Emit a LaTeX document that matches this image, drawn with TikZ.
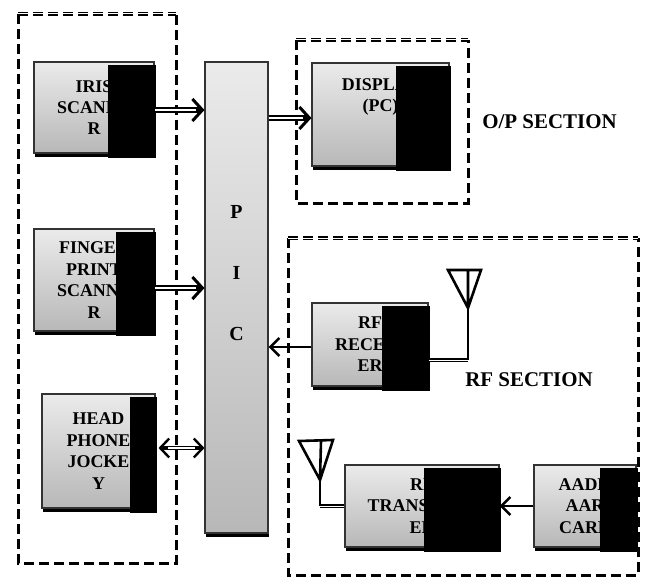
\documentclass[tikz,border=0pt]{standalone}
\usepackage{fontspec}
\setmainfont{Liberation Serif}
\usetikzlibrary{arrows.meta,positioning,calc,shadows}

\newcommand{\blkfont}{\fontsize{18}{21.5}\selectfont\bfseries}
\newcommand{\secfont}{\fontsize{21}{24}\selectfont\bfseries}
% black strip on the right of every block
\newcommand{\cover}[2]{\fill ([xshift=-#2bp,yshift=-4bp]#1.north east) rectangle ([xshift=1bp,yshift=-4bp]#1.south east);}

\begin{document}
\begin{tikzpicture}[x=1bp,y=-1bp,
  blk/.style={draw=black!80, line width=1.1bp, top color=black!8, bottom color=black!28,
    inner sep=0pt, align=center, font=\blkfont,
    drop shadow={shadow xshift=1bp, shadow yshift=-4bp, fill=black, opacity=1}},
  secline/.style={line width=3bp, dash pattern=on 10bp off 5bp},
  sectop/.style={secline, double=white, double distance=1bp, line width=1.8bp},
  seclabel/.style={font=\secfont, inner sep=0pt},
  dblline/.style={double, double distance=2.4bp, line width=2bp},
  dbltip/.style={line width=3bp, -{Straight Barb[length=10bp,width=22bp]}},
  bitip/.style={line width=2.4bp, -{Straight Barb[length=9bp,width=19bp]}},
  sarr/.style={line width=2.6bp, -{Straight Barb[length=9bp,width=18bp]}},
  feed/.style={double, double distance=1bp, line width=1.3bp},
  ant/.style={line width=2.6bp, line join=miter}
]
\useasboundingbox (0,0) rectangle (646,581);

% sections
\draw[secline] (18,14) -- (18,563) -- (176,563) -- (176,14);
\draw[sectop] (18,14) -- (176,14);
\draw[secline] (296,40) -- (296,203) -- (468,203) -- (468,40);
\draw[sectop] (296,40) -- (468,40);
\draw[secline] (288,238) -- (288,575) -- (638,575) -- (638,238);
\draw[sectop] (288,238) -- (638,238);
\node[seclabel] (oplbl) at (549.5,122) {O/P SECTION};
\node[seclabel] (rflbl) at (529,380) {RF SECTION};

% blocks
\node[blk, minimum width=120bp, minimum height=91bp] (iris) at (94,107.5) {IRIS\\SCANNE\\R};
\node[blk, minimum width=120bp, minimum height=102bp] (finger) at (94,280) {FINGER\\PRINT\\SCANNE\\R};
\node[blk, minimum width=113bp, minimum height=114bp] (head) at (98.5,451) {HEAD\\PHONE\\JOCKE\\Y};
\node[blk, minimum width=63bp, minimum height=471bp] (pic) at (236.5,297.5) {};
\node[blk, minimum width=137bp, minimum height=103bp] (disp) at (380.5,114.5) {};
\node[blk, minimum width=116bp, minimum height=83bp] (rx) at (370,344.5) {RF\\RECEIV\\ER};
\node[blk, minimum width=154bp, minimum height=82bp] (tx) at (422,506) {RF\\TRANSMITT\\ER};
\node[blk, minimum width=102bp, minimum height=82bp] (card) at (585,506) {AADH\\AAR\\CARD};
\node[font=\fontsize{20}{61.5}\selectfont\bfseries, align=center, inner sep=0pt] (pictxt) at (236.5,273) {P\\I\\C};
\node[font=\blkfont, align=center, inner sep=0pt] (disptxt) at (380.5,97) {DISPLAY\\(PC)};

\cover{iris}{47}
\cover{finger}{39}
\cover{head}{26}
\cover{disp}{54}
\cover{rx}{47}
\cover{tx}{76}
\cover{card}{37}

% links
\draw[dblline] ([yshift=-2.5bp]iris.east) -- ([xshift=-3bp,yshift=-2.5bp]iris.east -| pic.west);
\draw[dbltip] ([xshift=-8bp,yshift=-2.5bp]iris.east -| pic.west) -- ([yshift=-2.5bp]iris.east -| pic.west);
\draw[dblline] ([yshift=-8bp]finger.east) -- ([xshift=-3bp,yshift=-8bp]finger.east -| pic.west);
\draw[dbltip] ([xshift=-8bp,yshift=-8bp]finger.east -| pic.west) -- ([yshift=-8bp]finger.east -| pic.west);
\draw[dblline] ([yshift=-3.5bp]disp.west -| pic.east) -- ([xshift=-3bp,yshift=-3.5bp]disp.west);
\draw[dbltip] ([xshift=-8bp,yshift=-3.5bp]disp.west) -- ([yshift=-3.5bp]disp.west);
\draw[dblline, double distance=1.6bp, line width=1.5bp] ([xshift=6bp,yshift=3bp]head.east) -- ([xshift=-3bp,yshift=3bp]head.east -| pic.west);
\draw[bitip] ([xshift=12bp,yshift=3bp]head.east) -- ([xshift=3bp,yshift=3bp]head.east);
\draw[bitip] ([xshift=-9bp,yshift=3bp]head.east -| pic.west) -- ([yshift=3bp]head.east -| pic.west);
\draw[sarr] ([yshift=-2.5bp]rx.west) -- ([yshift=-2.5bp]rx.west -| pic.east);
\draw[sarr] (card.west) -- (tx.east);

% antennas
\coordinate (rxant) at (468,308);
\coordinate (txant) at (320,480);
\draw[feed] ([yshift=-15.5bp]rx.east) -- ([yshift=-15.5bp]rx.east -| rxant);
\draw[ant] ([yshift=-15.5bp]rx.east -| rxant) -- (rxant);
\draw[ant] (448,270) -- (481,270) -- (rxant) -- cycle (468,270) -- (rxant);
\draw[feed] (tx.west) -- (tx.west -| txant);
\draw[ant] (tx.west -| txant) -- (txant);
\draw[ant] (299,441) -- (333,440) -- (txant) -- cycle (321,441) -- (txant);
\end{tikzpicture}
\end{document}
